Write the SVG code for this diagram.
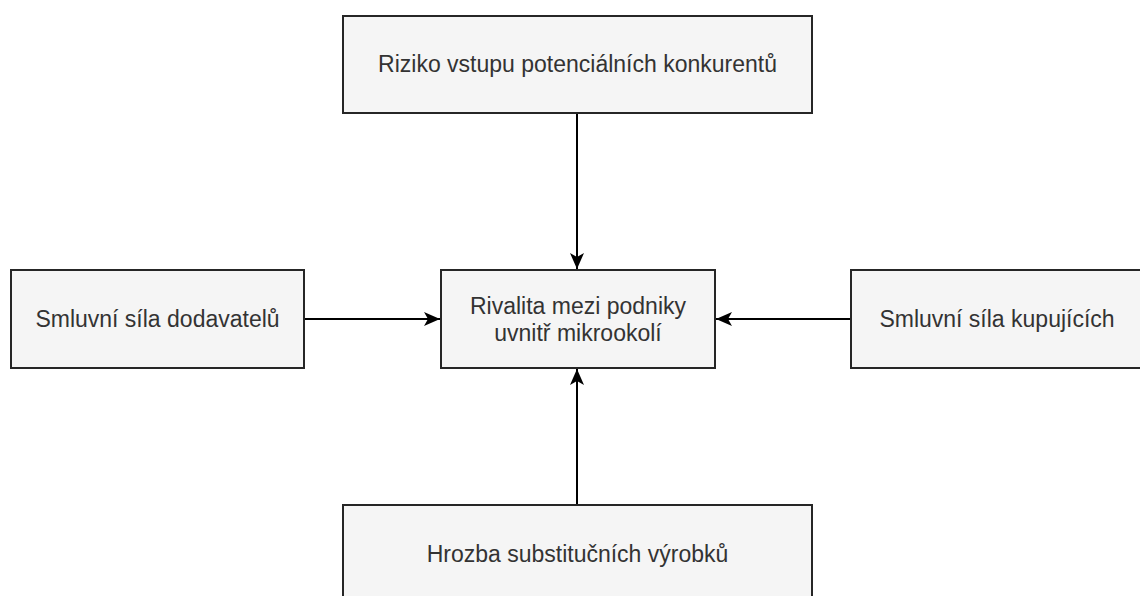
<svg xmlns="http://www.w3.org/2000/svg" width="1140" height="596" viewBox="0 0 1140 596">
<style>
.box{fill:#f5f5f5;stroke:#262626;stroke-width:2}
.lbl{font-family:"Liberation Sans",Arial,sans-serif;font-size:23px;fill:#333;text-anchor:middle}
.edge{stroke:#000;stroke-width:2;fill:none}
</style>
<defs>
<marker id="arr" markerUnits="userSpaceOnUse" viewBox="0 0 16 16" refX="16" refY="8" markerWidth="16" markerHeight="16" orient="auto">
<path d="M0,1 L16,8 L0,15 L4,8 Z" fill="#000"/>
</marker>
</defs>
<rect width="1140" height="596" fill="#fff"/>
<g id="connectors">
<line class="edge" x1="577" y1="113" x2="577" y2="269" marker-end="url(#arr)"/>
<line class="edge" x1="304" y1="319" x2="440" y2="319" marker-end="url(#arr)"/>
<line class="edge" x1="851" y1="319" x2="716" y2="319" marker-end="url(#arr)"/>
<line class="edge" x1="577" y1="505" x2="577" y2="369" marker-end="url(#arr)"/>
</g>
<g id="node-top">
<rect class="box" x="343" y="16" width="469" height="97"/>
<text class="lbl" x="577.5" y="72">Riziko vstupu potenciálních konkurentů</text>
</g>
<g id="node-left">
<rect class="box" x="11" y="270" width="293" height="98"/>
<text class="lbl" x="157.5" y="327">Smluvní síla dodavatelů</text>
</g>
<g id="node-center">
<rect class="box" x="441" y="270" width="274" height="98"/>
<text class="lbl" x="578" y="314">Rivalita mezi podniky</text>
<text class="lbl" x="578" y="341">uvnitř mikrookolí</text>
</g>
<g id="node-right">
<rect class="box" x="851" y="270" width="293" height="98"/>
<text class="lbl" x="997" y="327">Smluvní síla kupujících</text>
</g>
<g id="node-bottom">
<rect class="box" x="343" y="505" width="469" height="100"/>
<text class="lbl" x="577.5" y="562">Hrozba substitučních výrobků</text>
</g>
</svg>
